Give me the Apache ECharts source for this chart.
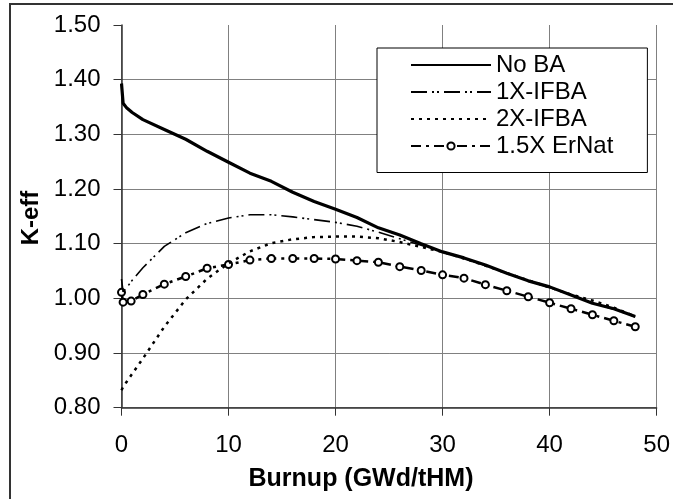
<!DOCTYPE html>
<html>
<head>
<meta charset="utf-8">
<script src="https://cdn.jsdelivr.net/npm/echarts@6/dist/echarts.min.js"></script>
<style>
html,body{margin:0;padding:0;background:#fff;}
#chart{width:673px;height:499px;}
</style>
</head>
<body>
<div id="chart"></div>
<script>
// Data
var burnup = [0, 0.15, 0.5, 1, 2, 4, 6, 8, 10, 12, 14, 16, 18, 20, 22, 24, 26, 28, 30, 32, 34, 36, 38, 40, 42, 44, 46, 48];
var noBA = [1.393, 1.357, 1.348, 1.340, 1.327, 1.309, 1.291, 1.269, 1.249, 1.229, 1.214, 1.194, 1.177, 1.163, 1.148, 1.129, 1.116, 1.100, 1.085, 1.074, 1.061, 1.046, 1.032, 1.021, 1.006, 0.991, 0.981, 0.967];
var ifba1X = [1.035, 1.012, 1.020, 1.033, 1.056, 1.095, 1.120, 1.137, 1.147, 1.153, 1.153, 1.149, 1.144, 1.139, 1.132, 1.121, 1.109, 1.097, 1.085, 1.073, 1.060, 1.046, 1.032, 1.020, 1.006, 0.992, 0.980, 0.966];
var ifba2X = [0.832, 0.838, 0.848, 0.862, 0.890, 0.948, 0.998, 1.036, 1.064, 1.086, 1.101, 1.108, 1.112, 1.113, 1.113, 1.110, 1.103, 1.094, 1.085, 1.073, 1.060, 1.046, 1.033, 1.020, 1.007, 0.996, 0.983, 0.967];
var burnupEr = [0, 0.15, 0.9, 2, 4, 6, 8, 10, 12, 14, 16, 18, 20, 22, 24, 26, 28, 30, 32, 34, 36, 38, 40, 42, 44, 46, 48];
var erNat15X = [1.011, 0.993, 0.995, 1.007, 1.026, 1.040, 1.055, 1.062, 1.070, 1.073, 1.073, 1.073, 1.072, 1.069, 1.066, 1.058, 1.051, 1.043, 1.037, 1.025, 1.014, 1.003, 0.992, 0.981, 0.970, 0.959, 0.948];
var seriesNames = ['No BA', '1X-IFBA', '2X-IFBA', '1.5X ErNat'];
var xTitle = 'Burnup (GWd/tHM)';
var yTitle = 'K-eff';

function pairs(xs, ys) { return xs.map(function (x, i) { return [x, ys[i]]; }); }

var FONT = "'Liberation Sans', Arial, sans-serif";
var hidden = {color: 'rgba(0,0,0,0)', borderWidth: 0, opacity: 0};
var chart = echarts.init(document.getElementById('chart'), null, {renderer: 'canvas'});
chart.setOption({
  animation: false,
  backgroundColor: '#fff',
  grid: {left: 121.5, right: 10, top: 25, bottom: 91.3, containLabel: false},
  xAxis: {
    type: 'value', min: 0, max: 50, interval: 10,
    axisLine: {show: true, lineStyle: {color: '#333', width: 1.5}},
    axisTick: {show: true, length: 8, inside: false, lineStyle: {color: '#333', width: 1}},
    axisLabel: {fontFamily: FONT, fontSize: 24, color: '#000', margin: 26},
    splitLine: {show: true, lineStyle: {color: '#808080', width: 1}}
  },
  yAxis: {
    type: 'value', min: 0.8, max: 1.5, interval: 0.1,
    axisLine: {show: true, lineStyle: {color: '#333', width: 1.5}},
    axisTick: {show: true, length: 8, inside: false, lineStyle: {color: '#333', width: 1}},
    axisLabel: {fontFamily: FONT, fontSize: 24, color: '#000', margin: 21,
      formatter: function (v) { return v.toFixed(2); }},
    splitLine: {show: true, showMaxLine: false, lineStyle: {color: '#808080', width: 1}}
  },
  legend: {
    orient: 'vertical', left: 377, top: 48,
    data: [
      {name: seriesNames[0], itemStyle: hidden},
      {name: seriesNames[1], itemStyle: hidden},
      {name: seriesNames[2], itemStyle: hidden},
      {name: seriesNames[3]}
    ],
    itemWidth: 80, itemHeight: 9, itemGap: 0,
    backgroundColor: '#fff', borderColor: '#000', borderWidth: 1,
    padding: [3.5, 34, 13, 33],
    textStyle: {fontFamily: FONT, fontSize: 24, color: '#000', lineHeight: 27}
  },
  graphic: [
    {type: 'rect', z: -10, silent: true, shape: {x: 10, y: 4, width: 700, height: 560},
      style: {fill: 'none', stroke: '#333', lineWidth: 2}},
    {type: 'text', x: 361, y: 479, style: {text: xTitle, font: "bold 25px 'Liberation Sans', Arial, sans-serif",
      fill: '#000', textAlign: 'center', textVerticalAlign: 'middle'}},
    {type: 'text', x: 31, y: 218, rotation: Math.PI / 2, style: {text: yTitle,
      font: "bold 24px 'Liberation Sans', Arial, sans-serif",
      fill: '#000', textAlign: 'center', textVerticalAlign: 'middle'}}
  ],
  series: [
    {name: '1.5X ErNat', type: 'line', data: pairs(burnupEr, erNat15X), z: 3,
      symbol: 'emptyCircle', symbolSize: 7, showSymbol: true, showAllSymbol: true,
      itemStyle: {color: '#000', borderWidth: 1.5},
      lineStyle: {color: '#000', width: 2.5, type: [10, 5, 3, 5]}},
    {name: '2X-IFBA', type: 'line', data: pairs(burnup, ifba2X), z: 4, symbol: 'none',
      lineStyle: {color: '#000', width: 2.5, type: [3, 5]}, itemStyle: {color: '#000'}},
    {name: '1X-IFBA', type: 'line', data: pairs(burnup, ifba1X), z: 5, symbol: 'none',
      lineStyle: {color: '#000', width: 1.6, type: [16, 5, 2, 3, 2, 5]}, itemStyle: {color: '#000'}},
    {name: 'No BA', type: 'line', data: pairs(burnup, noBA), z: 6, symbol: 'none',
      lineStyle: {color: '#000', width: 3.2, type: 'solid'}, itemStyle: {color: '#000'}}
  ]
});
</script>
</body>
</html>
